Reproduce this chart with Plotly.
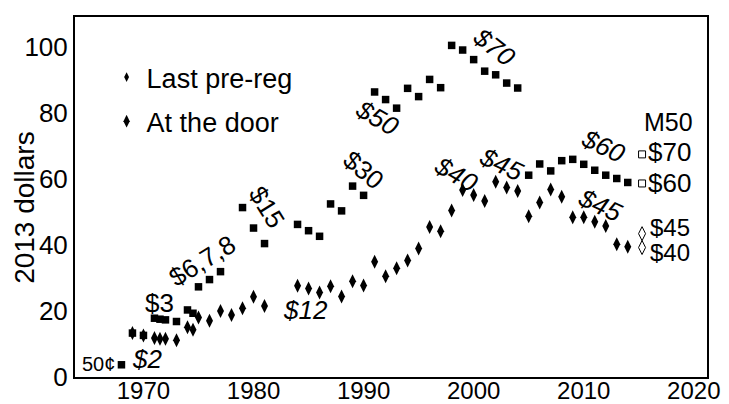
import plotly.graph_objects as go

# Last pre-registration price (2013 dollars)
pre_years = [1968, 1969, 1970, 1971, 1971.5, 1972, 1973, 1974, 1974.5, 1975, 1976, 1977,
             1979, 1980, 1981, 1984, 1985, 1986, 1987, 1988, 1989, 1990,
             1991, 1992, 1993, 1994, 1995, 1996, 1997, 1998, 1999, 2000, 2001, 2002, 2003, 2004,
             2005, 2006, 2007, 2008, 2009, 2010, 2011, 2012, 2013, 2014]
pre_values = [3.7, 13.3, 12.6, 17.8, 17.5, 17.3, 16.8, 20.3, 19.3, 27.3, 29.5, 31.9,
              51.3, 45.1, 40.4, 46.2, 44.3, 42.6, 52.4, 50.3, 57.8, 55.0,
              86.3, 84.0, 81.4, 87.4, 84.9, 90.1, 87.6, 100.4, 99.0, 96.1, 92.6, 91.5, 89.0, 87.5,
              61.1, 64.5, 62.4, 65.5, 65.9, 64.4, 62.6, 61.1, 60.1, 58.9]

# At-the-door price (2013 dollars)
door_years = [1969, 1970, 1971, 1971.5, 1972, 1973, 1974, 1974.5, 1975, 1976, 1977, 1978,
              1979, 1980, 1981, 1984, 1985, 1986, 1987, 1988, 1989, 1990,
              1991, 1992, 1993, 1994, 1995, 1996, 1997, 1998, 1999, 2000, 2001, 2002, 2003, 2004,
              2005, 2006, 2007, 2008, 2009, 2010, 2011, 2012, 2013, 2014]
door_values = [13.3, 12.6, 11.8, 11.6, 11.6, 11.1, 15.1, 14.3, 18.0, 17.0, 20.0, 18.8,
               20.8, 24.3, 21.5, 27.6, 26.8, 25.6, 27.5, 24.4, 29.0, 27.7,
               34.9, 30.5, 32.9, 35.3, 38.9, 45.4, 44.1, 50.4, 56.6, 55.1, 53.3, 59.1, 57.4, 56.3,
               48.7, 52.8, 56.8, 54.6, 48.4, 48.4, 47.0, 45.7, 40.2, 39.4]

# M50 prices
m50_pre_years = [2015.3, 2015.3]
m50_pre_values = [67.4, 58.6]
m50_door_years = [2015.3, 2015.3]
m50_door_values = [43.4, 39.2]

FONT = "Liberation Sans, Arial, sans-serif"

fig = go.Figure()
fig.add_trace(go.Scatter(x=pre_years, y=pre_values, mode="markers", showlegend=False,
                         marker=dict(symbol="square", size=7.5, color="black")))
fig.add_trace(go.Scatter(x=door_years, y=door_values, mode="markers", showlegend=False,
                         marker=dict(symbol="diamond-tall", size=10, color="black")))
fig.add_trace(go.Scatter(x=m50_pre_years, y=m50_pre_values, mode="markers", showlegend=False,
                         marker=dict(symbol="square-open", size=7, color="black", line=dict(width=1))))
fig.add_trace(go.Scatter(x=m50_door_years, y=m50_door_values, mode="markers", showlegend=False,
                         marker=dict(symbol="diamond-tall-open", size=10, color="black", line=dict(width=1))))

# legend entries (both drawn with diamonds as in the reference)
fig.add_trace(go.Scatter(x=[None], y=[None], mode="markers", name="Last pre-reg", legendgroup="a",
                         marker=dict(symbol="diamond-tall", size=7, color="black")))
fig.add_trace(go.Scatter(x=[None], y=[None], mode="markers", name="At the door", legendgroup="b",
                         marker=dict(symbol="diamond-tall", size=9, color="black")))

labels = [
    # text, x, y, angle, italic, size
    ("50¢", 1965.9, 3.9, 0, False, 20),
    ("$2", 1970.3, 5.4, 0, True, 26),
    ("$3", 1971.5, 22.4, 0, False, 26),
    ("$6,7,8", 1975.3, 35.2, -32, False, 26),
    ("$15", 1981.2, 51.4, 58, False, 26),
    ("$12", 1984.7, 20.3, 0, True, 26),
    ("$30", 1990.0, 62.7, 40, False, 26),
    ("$50", 1991.3, 78.5, 30, True, 26),
    ("$70", 2001.9, 100.0, 38, True, 26),
    ("$40", 1998.4, 61.6, 30, True, 26),
    ("$45", 2002.5, 64.5, 25, True, 26),
    ("$60", 2011.8, 70.0, 25, True, 26),
    ("$45", 2011.5, 52.2, 25, True, 26),
    ("M50", 2017.7, 77.3, 0, False, 25),
    ("$70", 2017.8, 68.0, 0, False, 26),
    ("$60", 2017.8, 58.8, 0, False, 26),
    ("$45", 2017.8, 45.4, 0, False, 24),
    ("$40", 2017.8, 37.8, 0, False, 24),
]
for t, x, y, ang, it, sz in labels:
    fig.add_annotation(x=x, y=y, xref="x", yref="y", text=(f"<i>{t}</i>" if it else t),
                       showarrow=False, textangle=ang, xanchor="center", yanchor="middle",
                       borderpad=0,
                       font=dict(family=FONT, size=sz, color="black"))

# y-axis title
fig.add_annotation(x=-0.079, y=0.47, xref="paper", yref="paper", text="2013 dollars",
                   showarrow=False, textangle=-90, xanchor="center", yanchor="middle",
                   font=dict(family=FONT, size=28, color="black"))

fig.update_layout(
    width=729, height=404,
    margin=dict(l=67, r=30, t=9, b=35, autoexpand=False),
    paper_bgcolor="white", plot_bgcolor="white",
    font=dict(family=FONT, size=26, color="black"),
    legend=dict(x=0.050, y=0.90, xanchor="left", yanchor="top", bgcolor="rgba(0,0,0,0)",
                font=dict(size=27), tracegroupgap=6),
)
fig.update_xaxes(range=[1963.78, 2021.2], tickvals=[1970, 1980, 1990, 2000, 2010, 2020],
                 showgrid=False, zeroline=False, showline=True, mirror=True, automargin=False,
                 linecolor="black", linewidth=2, ticks="", tickfont=dict(size=24),
                 ticklabelstandoff=-9)
fig.update_yaxes(range=[0, 109], tickvals=[0, 20, 40, 60, 80, 100],
                 showgrid=False, zeroline=False, showline=True, mirror=True, automargin=False,
                 linecolor="black", linewidth=2, ticks="", tickfont=dict(size=26))

fig.write_html("out.html")
